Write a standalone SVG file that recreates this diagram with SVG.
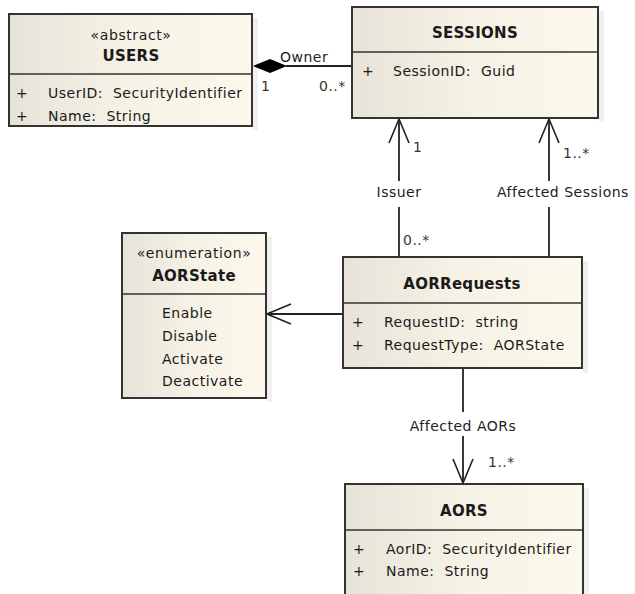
<svg xmlns="http://www.w3.org/2000/svg" width="635" height="594" viewBox="0 0 635 594">
<defs>
<linearGradient id="g" x1="0" y1="0" x2="1" y2="0">
<stop offset="0" stop-color="#e7e3d8"/>
<stop offset="0.5" stop-color="#f6f2e6"/>
<stop offset="1" stop-color="#fdf8ec"/>
</linearGradient>
<marker id="open" viewBox="0 0 26 22" refX="25" refY="11" markerWidth="26" markerHeight="22" markerUnits="userSpaceOnUse" orient="auto">
<path d="M1,1 L25,11 L1,21" fill="none" stroke="#222" stroke-width="1.6"/>
</marker>
</defs>
<style>
.box{fill:url(#g);stroke:#333;stroke-width:2}
.div{stroke:#333;stroke-width:1.6}
.shadow{fill:#000;opacity:0.06}
text{font-family:"DejaVu Sans","Liberation Sans",sans-serif;font-size:14px;letter-spacing:0.5px;fill:#1a1a1a;white-space:pre}
.t{font-weight:bold;font-size:15px;letter-spacing:0.3px;text-anchor:middle}
.st{text-anchor:middle;font-size:14px;letter-spacing:0.6px}
.m{fill:#3d3420}
.lbl{fill:#222}
.c{stroke:#222;stroke-width:1.8;fill:none}
.mid{text-anchor:middle}
</style>
<g id="connectors">
<line class="c" x1="286" y1="66" x2="352" y2="66"/>
<path d="M253,66 L270,59 L287,66 L270,73 Z" fill="#000"/>
<text x="280" y="62" class="lbl">Owner</text>
<text x="261" y="91" class="m">1</text>
<text x="319" y="91" class="m">0..*</text>
<line class="c" x1="399" y1="257" x2="399" y2="207"/>
<line class="c" x1="399" y1="181" x2="399" y2="119" marker-end="url(#open)"/>
<text x="399" y="197" class="lbl mid">Issuer</text>
<text x="413" y="152" class="m">1</text>
<text x="403" y="245" class="m">0..*</text>
<line class="c" x1="549" y1="257" x2="549" y2="207"/>
<line class="c" x1="549" y1="181" x2="549" y2="119" marker-end="url(#open)"/>
<text x="497" y="197" class="lbl">Affected Sessions</text>
<text x="563" y="158" class="m">1..*</text>
<line class="c" x1="343" y1="314" x2="267" y2="314" marker-end="url(#open)"/>
<line class="c" x1="463" y1="369" x2="463" y2="412"/>
<line class="c" x1="463" y1="436" x2="463" y2="483" marker-end="url(#open)"/>
<text x="463" y="431" class="lbl mid">Affected AORs</text>
<text x="488" y="467" class="m">1..*</text>
</g>
<g id="USERS">
<rect class="shadow" x="253" y="18" width="5" height="112"/>
<rect class="box" x="9" y="14" width="243" height="112"/>
<line class="div" x1="9" y1="74" x2="252" y2="74"/>
<text x="131" y="40" class="st">«abstract»</text>
<text x="131" y="61" class="t">USERS</text>
<text x="16" y="98">+</text>
<text x="48" y="98">UserID:  SecurityIdentifier</text>
<text x="16" y="121">+</text>
<text x="48" y="121">Name:  String</text>
</g>
<g id="SESSIONS">
<rect class="shadow" x="599" y="11" width="5" height="111"/>
<rect class="box" x="352" y="7" width="246" height="111"/>
<line class="div" x1="352" y1="52" x2="598" y2="52"/>
<text x="475" y="38" class="t">SESSIONS</text>
<text x="362" y="76">+</text>
<text x="393" y="76">SessionID:  Guid</text>
</g>
<g id="AORState">
<rect class="shadow" x="267" y="237" width="5" height="165"/>
<rect class="box" x="122" y="233" width="144" height="165"/>
<line class="div" x1="122" y1="294" x2="266" y2="294"/>
<text x="194" y="258" class="st">«enumeration»</text>
<text x="194" y="281" class="t">AORState</text>
<text x="162" y="318">Enable</text>
<text x="162" y="341">Disable</text>
<text x="162" y="364">Activate</text>
<text x="162" y="386">Deactivate</text>
</g>
<g id="AORRequests">
<rect class="shadow" x="583" y="261" width="5" height="112"/>
<rect class="box" x="343" y="257" width="239" height="111"/>
<line class="div" x1="343" y1="303" x2="582" y2="303"/>
<text x="462" y="289" class="t">AORRequests</text>
<text x="352" y="327">+</text>
<text x="384" y="327">RequestID:  string</text>
<text x="352" y="350">+</text>
<text x="384" y="350">RequestType:  AORState</text>
</g>
<g id="AORS">
<rect class="shadow" x="584" y="488" width="5" height="120"/>
<rect class="box" x="345" y="484" width="238" height="120"/>
<line class="div" x1="345" y1="530" x2="583" y2="530"/>
<text x="464" y="516" class="t">AORS</text>
<text x="353" y="554">+</text>
<text x="386" y="554">AorID:  SecurityIdentifier</text>
<text x="353" y="576">+</text>
<text x="386" y="576">Name:  String</text>
</g>
</svg>
